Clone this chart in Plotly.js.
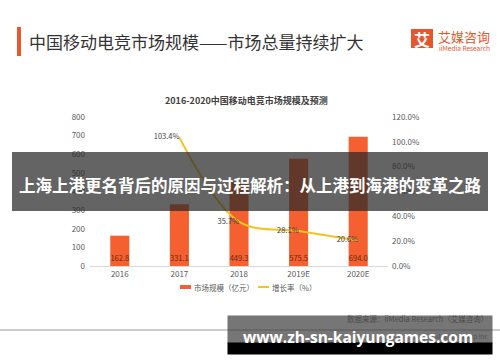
<!DOCTYPE html>
<html>
<head>
<meta charset="utf-8">
<script src="https://cdn.plot.ly/plotly-3.0.1.min.js"></script>
<style>
html,body{margin:0;padding:0;background:#fff;}
#chart{width:500px;height:362px;}
</style>
</head>
<body>
<div id="chart"></div>
<script>
// ---- data ----
const years = ['2016', '2017', '2018', '2019E', '2020E'];
const marketSize = [162.8, 331.1, 449.3, 575.5, 694.0];
const growthYears = ['2017', '2018', '2019E', '2020E'];
const growthRate = [103.4, 35.7, 28.1, 20.6];
const leftTicks = [0, 100, 200, 300, 400, 500, 600, 700, 800];
const rightTicks = [0, 20, 40, 60, 80, 100, 120];

const mainTitle = '中国移动电竞市场规模——市场总量持续扩大';
const chartTitle = '2016-2020中国移动电竞市场规模及预测';
const legendBar = '市场规模（亿元）';
const legendLine = '增长率（%）';
const sourceText = '数据来源：iiMedia Research（艾媒咨询）';
const bannerText = '上海上港更名背后的原因与过程解析：从上港到海港的变革之路';
const watermarkText = 'www.zh-sn-kaiyungames.com';

// ---- geometry helpers (pixel -> paper) ----
const L = 90, R = 388, T = 117, B = 266, W = 500, H = 362;
const px = x => (x - L) / (R - L);
const py = y => (B - y) / (B - T);

const FONT = '"Noto Sans CJK SC", "Noto Sans", sans-serif';
const ORANGE = '#F4602F';
const YELLOW = '#F3C322';

const traces = [
  {
    type: 'bar', x: years, y: marketSize, name: legendBar,
    marker: {color: ORANGE},
    text: marketSize.map(v => v.toFixed(1)),
    textposition: 'inside', insidetextanchor: 'start',
    constraintext: 'none', textangle: 0,
    textfont: {size: 7.5, color: '#6a2a14', family: FONT},
    showlegend: false, hoverinfo: 'skip'
  },
  {
    type: 'scatter', mode: 'lines+text', x: growthYears, y: growthRate,
    yaxis: 'y2', name: legendLine,
    line: {color: YELLOW, width: 2, shape: 'spline', smoothing: 1},
    text: growthRate.map(v => v.toFixed(1) + '%'),
    textposition: 'middle left',
    textfont: {size: 7.5, color: '#404040', family: FONT},
    showlegend: false, hoverinfo: 'skip'
  }
];

const ann = (x, y, text, opts) => Object.assign({
  xref: 'paper', yref: 'paper', x: px(x), y: py(y), text: text,
  showarrow: false, xanchor: 'left', yanchor: 'middle',
  font: {family: FONT, size: 8, color: '#595959'}
}, opts || {});

const layout = {
  width: W, height: H,
  margin: {l: L, r: W - R, t: T, b: H - B, pad: 0},
  paper_bgcolor: '#ffffff', plot_bgcolor: '#ffffff',
  font: {family: FONT, size: 8, color: '#595959'},
  showlegend: false,
  bargap: 0.68,
  xaxis: {
    type: 'category', categoryarray: years,
    showline: true, linecolor: '#d9d9d9', linewidth: 1,
    showgrid: false, zeroline: false, ticks: '',
    tickfont: {size: 8, color: '#595959'}, fixedrange: true
  },
  yaxis: {
    range: [0, 800], tickvals: leftTicks, showgrid: false, zeroline: false,
    showline: false, ticks: '', tickfont: {size: 8, color: '#595959'},
    ticklabelstandoff: 4, fixedrange: true
  },
  yaxis2: {
    overlaying: 'y', side: 'right', range: [0, 120], tickvals: rightTicks,
    ticktext: rightTicks.map(v => v.toFixed(1) + '%'),
    showgrid: false, zeroline: false, showline: false, ticks: '',
    tickfont: {size: 8, color: '#595959'}, ticklabelstandoff: 3, fixedrange: true
  },
  shapes: [
    {type: 'rect', xref: 'paper', yref: 'paper', x0: px(17), x1: px(21), y0: py(27), y1: py(56),
     fillcolor: '#E8582C', line: {width: 0}},
    {type: 'rect', xref: 'paper', yref: 'paper', x0: px(411), x1: px(433), y0: py(29), y1: py(48),
     fillcolor: '#E4572E', line: {width: 0}},
    {type: 'rect', xref: 'paper', yref: 'paper', x0: px(180), x1: px(191), y0: py(285), y1: py(289),
     fillcolor: ORANGE, line: {width: 0}},
    {type: 'line', xref: 'paper', yref: 'paper', x0: px(258), x1: px(269), y0: py(287), y1: py(287),
     line: {color: YELLOW, width: 2}},
    {type: 'line', xref: 'paper', yref: 'paper', x0: px(0), x1: px(500), y0: py(330), y1: py(330),
     line: {color: '#bdbdbd', width: 1.5}},
    {type: 'rect', xref: 'paper', yref: 'paper', x0: px(12), x1: px(488), y0: py(152), y1: py(211),
     fillcolor: 'rgba(40,40,40,0.72)', line: {width: 0}, layer: 'above'}
  ],
  annotations: [
    ann(27, 42, mainTitle, {font: {family: FONT, size: 17, color: '#333333'}}),
    ann(422, 39, '<b>艾</b>', {xanchor: 'center', font: {family: FONT, size: 16, color: '#ffffff'}}),
    ann(436, 36, '艾媒咨询', {font: {family: FONT, size: 13, color: '#E4572E'}}),
    ann(437, 48, 'iiMedia Research', {font: {family: FONT, size: 6.5, color: '#E4572E'}}),
    ann(246, 100, '<b>' + chartTitle + '</b>', {xanchor: 'center', font: {family: FONT, size: 9, color: '#404040'}}),
    ann(192, 287, legendBar, {font: {family: FONT, size: 7.5, color: '#595959'}}),
    ann(270, 287, legendLine, {font: {family: FONT, size: 7.5, color: '#595959'}}),
    ann(490, 318, sourceText, {xanchor: 'right', font: {family: FONT, size: 7.5, color: '#6e6e6e'}}),
    ann(491, 336, 'iiMedia Group Inc', {xanchor: 'right', font: {family: FONT, size: 6.5, color: '#8a8a8a'}}),
    ann(250, 185, '<b>' + bannerText + '</b>', {xanchor: 'center', font: {family: FONT, size: 16.5, color: '#ffffff'}}),
    ann(227, 315, ' ', {yanchor: 'top', width: 264, height: 27, borderpad: 0, bgcolor: 'rgba(60,60,60,0.7)'}),
    ann(227, 342, ' ', {yanchor: 'top', width: 264, height: 11, borderpad: 0, bgcolor: '#000000'}),
    ann(358, 337, '<b>' + watermarkText + '</b>', {xanchor: 'center', font: {family: '"Open Sans", sans-serif', size: 15.5, color: '#ffffff'}})
  ]
};

Plotly.newPlot('chart', traces, layout, {displayModeBar: false, staticPlot: true});
</script>
</body>
</html>
